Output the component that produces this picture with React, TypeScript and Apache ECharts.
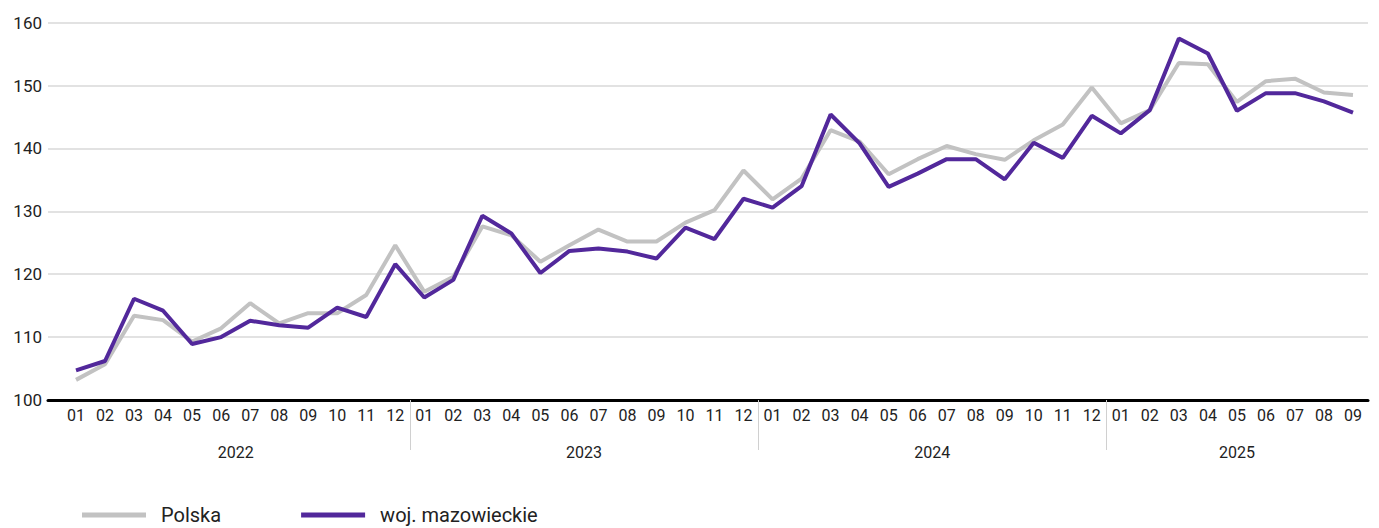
import React, { useEffect, useRef } from 'react';
import * as echarts from 'echarts';

const years = ['2022', '2023', '2024', '2025'];
const monthsPerYear = [12, 12, 12, 9];
const monthLabels = [
  '01', '02', '03', '04', '05', '06', '07', '08', '09', '10', '11', '12',
  '01', '02', '03', '04', '05', '06', '07', '08', '09', '10', '11', '12',
  '01', '02', '03', '04', '05', '06', '07', '08', '09', '10', '11', '12',
  '01', '02', '03', '04', '05', '06', '07', '08', '09',
];
const polska = [
  103.2, 105.7, 113.4, 112.7, 109.3, 111.4, 115.4, 112.2, 113.8, 113.8, 116.7, 124.6,
  117.2, 119.6, 127.6, 126.2, 122.0, 124.6, 127.1, 125.2, 125.2, 128.2, 130.2, 136.5,
  131.9, 135.2, 142.9, 141.1, 135.9, 138.3, 140.4, 139.1, 138.2, 141.3, 143.8, 149.7,
  144.0, 146.1, 153.6, 153.4, 147.4, 150.7, 151.1, 148.9, 148.5,
];
const mazowieckie = [
  104.7, 106.2, 116.1, 114.2, 108.9, 110.0, 112.6, 111.9, 111.5, 114.7, 113.2, 121.6,
  116.3, 119.1, 129.3, 126.5, 120.2, 123.7, 124.1, 123.6, 122.5, 127.4, 125.6, 132.0,
  130.6, 134.0, 145.4, 140.8, 133.9, 136.0, 138.3, 138.3, 135.1, 140.9, 138.5, 145.2,
  142.4, 146.1, 157.5, 155.1, 146.0, 148.8, 148.8, 147.5, 145.7,
];
const seriesNames = ['Polska', 'woj. mazowieckie'];
const yMin = 100;
const yMax = 160;
const yInterval = 10;

const FONT = 'Roboto';

export default function App() {
  const ref = useRef<HTMLDivElement>(null);

  useEffect(() => {
    if (!ref.current) return;
    const chart = echarts.init(ref.current, undefined, { renderer: 'svg' });

    // half-step positions for year labels / separators
    const totalMonths = monthsPerYear.reduce((a, b) => a + b, 0);
    const halfCats: string[] = [];
    for (let k = 0; k <= totalMonths * 2; k++) halfCats.push(String(k));
    const yearLabelAt: Record<number, string> = {};
    const sepAt: Record<number, boolean> = {};
    let start = 0;
    years.forEach((y, i) => {
      const n = monthsPerYear[i];
      yearLabelAt[2 * start + n] = y;
      if (start > 0) sepAt[2 * start] = true;
      start += n;
    });

    const top = 22.7;
    const bottom = 128;

    chart.setOption({
      animation: false,
      textStyle: { fontFamily: FONT },
      grid: [
        { left: 61.5, right: 11.5, top, bottom },
        { left: 48, right: 11, top, bottom },
      ],
      legend: {
        data: seriesNames,
        left: 77,
        top: 498,
        icon: 'rect',
        itemWidth: 64,
        itemHeight: 5,
        itemGap: 80,
        textStyle: { fontFamily: FONT, fontSize: 20, color: '#222', padding: [0, 0, 0, 10], lineHeight: 24 },
      },
      xAxis: [
        {
          type: 'category',
          gridIndex: 0,
          data: monthLabels,
          boundaryGap: true,
          axisLine: { show: false },
          axisTick: { show: false },
          axisLabel: { interval: 0, margin: 7, fontSize: 16, color: '#222', fontFamily: FONT },
        },
        {
          type: 'category',
          gridIndex: 0,
          position: 'bottom',
          data: halfCats,
          boundaryGap: false,
          axisLine: { show: false },
          axisTick: {
            show: true,
            length: 50,
            interval: (idx: number) => !!sepAt[idx],
            lineStyle: { color: '#d0d0d0', width: 1 },
          },
          axisLabel: {
            interval: 0,
            margin: 44,
            fontSize: 16,
            color: '#222',
            fontFamily: FONT,
            hideOverlap: false,
            formatter: (_v: string, idx: number) => yearLabelAt[idx] || '',
          },
        },
        {
          type: 'category',
          gridIndex: 1,
          data: monthLabels,
          axisLine: { show: true, lineStyle: { color: '#000', width: 3 } },
          axisTick: { show: false },
          axisLabel: { show: false },
        },
      ],
      yAxis: [
        {
          type: 'value',
          gridIndex: 0,
          min: yMin,
          max: yMax,
          interval: yInterval,
          axisLine: { show: false },
          axisTick: { show: false },
          axisLabel: { show: false },
          splitLine: { show: false },
        },
        {
          type: 'value',
          gridIndex: 1,
          min: yMin,
          max: yMax,
          interval: yInterval,
          axisLine: { show: false },
          axisTick: { show: false },
          axisLabel: { margin: 6, fontSize: 17, color: '#222', fontFamily: FONT },
          splitLine: { show: true, lineStyle: { color: '#d9d9d9', width: 1.5 } },
        },
      ],
      series: [
        {
          name: seriesNames[0],
          type: 'line',
          xAxisIndex: 0,
          yAxisIndex: 0,
          data: polska,
          symbol: 'none',
          lineStyle: { width: 4, color: '#c2c2c2' },
          itemStyle: { color: '#c2c2c2' },
          z: 2,
        },
        {
          name: seriesNames[1],
          type: 'line',
          xAxisIndex: 0,
          yAxisIndex: 0,
          data: mazowieckie,
          symbol: 'none',
          lineStyle: { width: 4, color: '#52289b' },
          itemStyle: { color: '#52289b' },
          z: 3,
        },
      ],
    });

    return () => chart.dispose();
  }, []);

  return (
    <div
      ref={ref}
      style={{ position: 'fixed', left: 0, top: 0, width: 1379, height: 528, background: '#fff' }}
    />
  );
}
